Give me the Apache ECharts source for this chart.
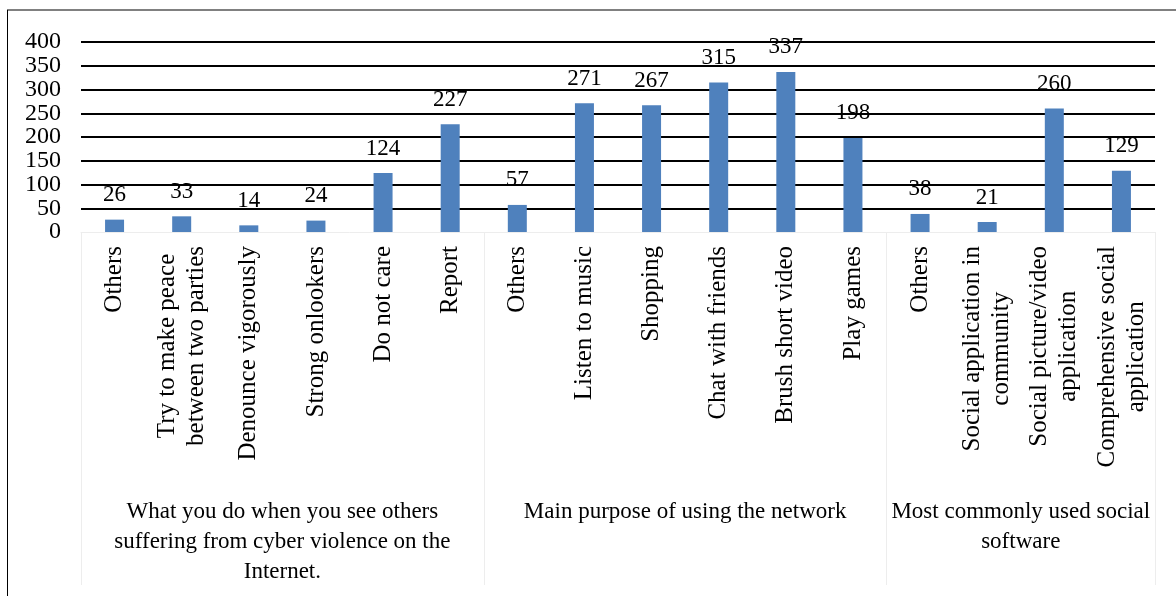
<!DOCTYPE html>
<html>
<head>
<meta charset="utf-8">
<script src="https://cdn.jsdelivr.net/npm/echarts@6/dist/echarts.min.js"></script>
<style>html,body{margin:0;padding:0;background:#fff;}#c{width:1176px;height:596px;}</style>
</head>
<body>
<div id="c"></div>
<script>
var categories = [
  'Others', 'Try to make peace\nbetween two parties', 'Denounce vigorously', 'Strong onlookers', 'Do not care', 'Report',
  'Others', 'Listen to music', 'Shopping', 'Chat with friends', 'Brush short video', 'Play games',
  'Others', 'Social application in\ncommunity', 'Social picture/video\napplication', 'Comprehensive social\napplication'
];
var values = [26, 33, 14, 24, 124, 227, 57, 271, 267, 315, 337, 198, 38, 21, 260, 129];
var groupNames = [
  'What you do when you see others\nsuffering from cyber violence on the\nInternet.',
  'Main purpose of using the network',
  'Most commonly used social\nsoftware'
];
var groupSizes = [6, 6, 4];
var yTicksEven = [0, 100, 200, 300, 400];
var yTicksOdd = [50, 150, 250, 350];

var FONT = '"Liberation Serif", "Times New Roman", serif';
var bounds = [0], centers = [];
groupSizes.forEach(function (n, i) {
  var start = bounds[bounds.length - 1];
  bounds.push(start + n);
  centers.push(start + n / 2);
});

function yAxisDef(ticks, showSplit) {
  return {
    type: 'value', min: 0, max: 400, interval: 50, position: 'left',
    axisLine: {show: false},
    axisTick: {show: false},
    splitLine: {show: showSplit, showMinLine: false, lineStyle: {color: '#000', width: 2}},
    axisLabel: {
      margin: 20, fontFamily: FONT, fontSize: 24, color: '#000',
      showMinLabel: true, showMaxLabel: true,
      customValues: ticks
    }
  };
}

var chart = echarts.init(document.getElementById('c'), null, {renderer: 'canvas'});
chart.setOption({
  backgroundColor: '#fff',
  animation: false,
  grid: {left: 81, right: 21, top: 42, bottom: 364, containLabel: false},
  xAxis: [{
    type: 'category',
    data: categories,
    position: 'bottom',
    axisLine: {show: true, lineStyle: {color: '#ededed', width: 1}},
    axisTick: {show: false},
    axisLabel: {
      rotate: 90, interval: 0, margin: 14,
      formatter: function (v) {
        return v.split('\n').map(function (l) { return '{c|' + l + '}'; }).join('\n');
      },
      rich: {c: {align: 'center', fontFamily: FONT, fontSize: 25, color: '#000', lineHeight: 29}}
    }
  }, {
    type: 'value',
    min: 0, max: 16,
    position: 'bottom',
    axisLine: {show: false},
    splitLine: {show: false},
    axisTick: {show: true, customValues: bounds, length: 353, inside: false, lineStyle: {color: '#ededed', width: 1}},
    axisLabel: {
      show: true, customValues: centers, margin: 265,
      formatter: function (v) {
        var i = centers.indexOf(v);
        return i >= 0 ? groupNames[i] : '';
      },
      fontFamily: FONT, fontSize: 23, color: '#000', lineHeight: 30, align: 'center'
    }
  }],
  yAxis: [yAxisDef(yTicksEven, true), yAxisDef(yTicksOdd, false)],
  series: [{
    type: 'bar',
    data: values,
    xAxisIndex: 0,
    yAxisIndex: 0,
    barWidth: 19,
    itemStyle: {color: '#4f81bd'},
    label: {show: true, position: 'top', distance: 13, fontFamily: FONT, fontSize: 23, color: '#000'}
  }],
  graphic: [
    {type: 'line', shape: {x1: 7, y1: 10, x2: 1176, y2: 10}, style: {stroke: '#808080', lineWidth: 2}, silent: true},
    {type: 'line', shape: {x1: 7.5, y1: 10, x2: 7.5, y2: 596}, style: {stroke: '#000', lineWidth: 1}, silent: true}
  ]
});
</script>
</body>
</html>
